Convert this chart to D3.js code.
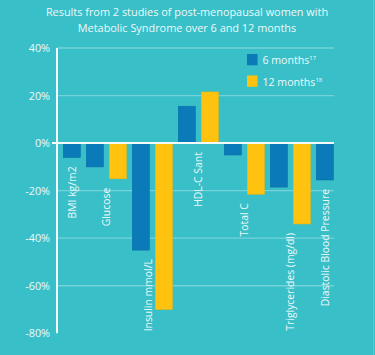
<!DOCTYPE html>
<html>
<head>
<meta charset="utf-8">
<script src="https://cdn.jsdelivr.net/npm/d3@7"></script>
<style>
  html, body { margin: 0; padding: 0; background: #39bfc8; }
  svg { display: block; }
  text { font-family: "Open Sans", "Noto Sans", sans-serif; fill: #eef9fa; }
</style>
</head>
<body>
<svg id="chart" width="375" height="355"></svg>
<script>
// ---- data ----
const titleLines = ["Results from 2 studies of post-menopausal women with",
                    "Metabolic Syndrome over 6 and 12 months"];
const categories = ["BMI kg/m2", "Glucose", "Insulin mmol/L", "HDL-C Sant", "Total C",
                    "Triglycerides (mg/dl)", "Diastolic Blood Pressure"];
const sixMonths = [-6, -10, -45, 15.5, -5, -18.5, -15.5];
const twelveMonths = [null, -15, -70, 21.5, -21.5, -34, null];
const seriesNames = ["6 months", "12 months"];
const seriesRefs = ["17", "18"];
const yTicks = [40, 20, 0, -20, -40, -60, -80];

// ---- layout ----
const W = 375, H = 355;
const colors = ["#0a7ab8", "#fec20f"];
const strokes = ["#0b6fa6", "#f0b70c"];
const svg = d3.select("#chart");
svg.append("rect").attr("width", W).attr("height", H).attr("fill", "#39bfc8");
svg.append("rect").attr("x", 373).attr("width", 1).attr("height", H).attr("fill", "#5ccad2");

const plotLeft = 57, plotRight = 334;
const y = d3.scaleLinear().domain([-80, 40]).range([333.3, 48]);

// flat list of bar slots (skip missing values)
const bars = [];
categories.forEach((c, i) => {
  [sixMonths[i], twelveMonths[i]].forEach((v, s) => {
    if (v !== null) bars.push({ cat: i, s, v, key: i + "-" + s });
  });
});
const x = d3.scaleBand().domain(bars.map(d => d.key))
  .range([60.3, 336.3]).paddingInner(6 / 23).paddingOuter(3 / 23);

// title
svg.append("g").selectAll("text").data(titleLines).join("text")
  .attr("x", 187).attr("y", (d, i) => 16.2 + i * 16)
  .attr("text-anchor", "middle").attr("font-size", 10.9)
  .text(d => d);

// gridlines
svg.append("g").selectAll("line").data(yTicks.filter(t => t !== 0 && t !== -80)).join("line")
  .attr("x1", plotLeft).attr("x2", plotRight)
  .attr("y1", d => y(d)).attr("y2", d => y(d))
  .attr("stroke", "#ffffff").attr("stroke-opacity", 0.3).attr("stroke-width", 1.3);

// y axis via d3.axisLeft
const yAxis = svg.append("g").attr("transform", `translate(${plotLeft},0)`)
  .call(d3.axisLeft(y).tickValues(yTicks).tickFormat(d => d + "%").tickSize(0).tickPadding(7));
yAxis.select(".domain").remove();
yAxis.selectAll("text").attr("font-size", 10.8).attr("fill", "#eef9fa")
  .attr("font-family", '"Open Sans", sans-serif');

// bars
svg.append("g").selectAll("rect").data(bars).join("rect")
  .attr("x", d => x(d.key)).attr("width", x.bandwidth())
  .attr("y", d => y(Math.max(0, d.v))).attr("height", d => Math.abs(y(d.v) - y(0)))
  .attr("fill", d => colors[d.s]).attr("stroke", d => strokes[d.s]).attr("stroke-width", 0.6);

// axis line, zero line, zero tick
svg.append("line").attr("x1", plotLeft).attr("x2", plotLeft).attr("y1", y(40)).attr("y2", y(-80))
  .attr("stroke", "#f4fbfc").attr("stroke-width", 2);
svg.append("line").attr("x1", plotLeft - 5).attr("x2", plotRight).attr("y1", y(0)).attr("y2", y(0))
  .attr("stroke", "#f4fbfc").attr("stroke-width", 2);

// category labels (rotated)
const gap = 9;
const bottom = y(-80);
categories.forEach((c, i) => {
  const cb = bars.filter(b => b.cat === i);
  const centers = cb.map(b => x(b.key) + x.bandwidth() / 2);
  const cx = d3.mean(centers);
  const t = svg.append("text").attr("font-size", 10.4).attr("text-anchor", "end")
    .attr("dy", "0.36em").text(c);
  const len = t.node().getComputedTextLength();
  let anchorV = Math.min(0, d3.min(cb, b => b.v));
  let lx = cx;
  if (y(anchorV) + gap + len > bottom) {
    // label would run off the chart: tuck it under the shorter bar instead
    const sorted = cb.slice().sort((a, b) => a.v - b.v);
    const alt = sorted.find(b => y(Math.min(0, b.v)) + gap + len <= bottom);
    if (alt) {
      anchorV = Math.min(0, alt.v);
      const bx = x(alt.key);
      lx = bx + (bx + x.bandwidth() / 2 < cx ? x.bandwidth() : 0) - 1;
    }
  }
  const ly = y(anchorV) + gap;
  t.attr("transform", `translate(${lx},${ly}) rotate(-90)`);
});

// legend
const lg = svg.append("g").attr("transform", "translate(247,54)");
seriesNames.forEach((n, i) => {
  const g = lg.append("g").attr("transform", `translate(0,${i * 21.5})`);
  g.append("rect").attr("width", 10.5).attr("height", 11.3).attr("fill", colors[i]);
  const t = g.append("text").attr("x", 15.5).attr("y", 10.2).attr("font-size", 10.6);
  t.append("tspan").text(n);
  t.append("tspan").attr("font-size", 6).attr("dy", -4).text(seriesRefs[i]);
});
</script>
</body>
</html>
